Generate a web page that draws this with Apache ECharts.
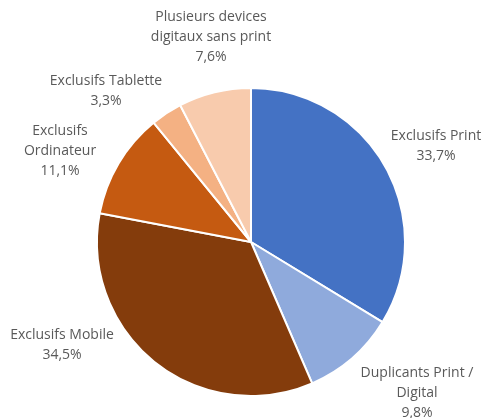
<!DOCTYPE html>
<html>
<head>
<meta charset="utf-8">
<script src="https://cdn.jsdelivr.net/npm/echarts@6/dist/echarts.min.js"></script>
<style>
  html, body { margin: 0; padding: 0; background: #fff; }
  #chart { width: 483px; height: 418px; }
</style>
</head>
<body>
<div id="chart"></div>
<script>
// categories and shares (%), clockwise from the top
var categories = ['Exclusifs Print', 'Duplicants Print /\nDigital', 'Exclusifs Mobile', 'Exclusifs\nOrdinateur', 'Exclusifs Tablette', 'Plusieurs devices\ndigitaux sans print'];
var values = [33.7, 9.8, 34.5, 11.1, 3.3, 7.6];
var colors = ['#4472C4', '#8FAADC', '#843C0C', '#C55A11', '#F4B183', '#F8CBAD'];

// label anchor points (Excel "best fit" placement)
var labelPos = [[436, 146], [417, 393], [62, 345], [60, 151], [106, 91], [211, 37]];

var myChart = echarts.init(document.getElementById('chart'));

var data = [];
for (var i = 0; i < categories.length; i++) {
  data.push({ name: categories[i], value: values[i], itemStyle: { color: colors[i] } });
}

var option = {
  animation: false,
  series: [{
    type: 'pie',
    center: [251, 242],
    radius: 154,
    startAngle: 90,
    clockwise: true,
    data: data,
    itemStyle: { borderColor: '#fff', borderWidth: 2 },
    label: {
      show: true,
      position: 'outside',
      color: '#595959',
      fontFamily: 'Open Sans',
      fontSize: 14,
      lineHeight: 20,
      align: 'center',
      overflow: 'none',
      width: 200,
      formatter: function (p) {
        return p.name + '\n' + p.value.toFixed(1).replace('.', ',') + '%';
      }
    },
    labelLine: { show: false },
    labelLayout: function (p) {
      var pos = labelPos[p.dataIndex];
      return { x: pos[0], y: pos[1], align: 'center', verticalAlign: 'middle' };
    }
  }]
};

myChart.setOption(option, true);
window.addEventListener('resize', function () { myChart.resize(); });
</script>
</body>
</html>
